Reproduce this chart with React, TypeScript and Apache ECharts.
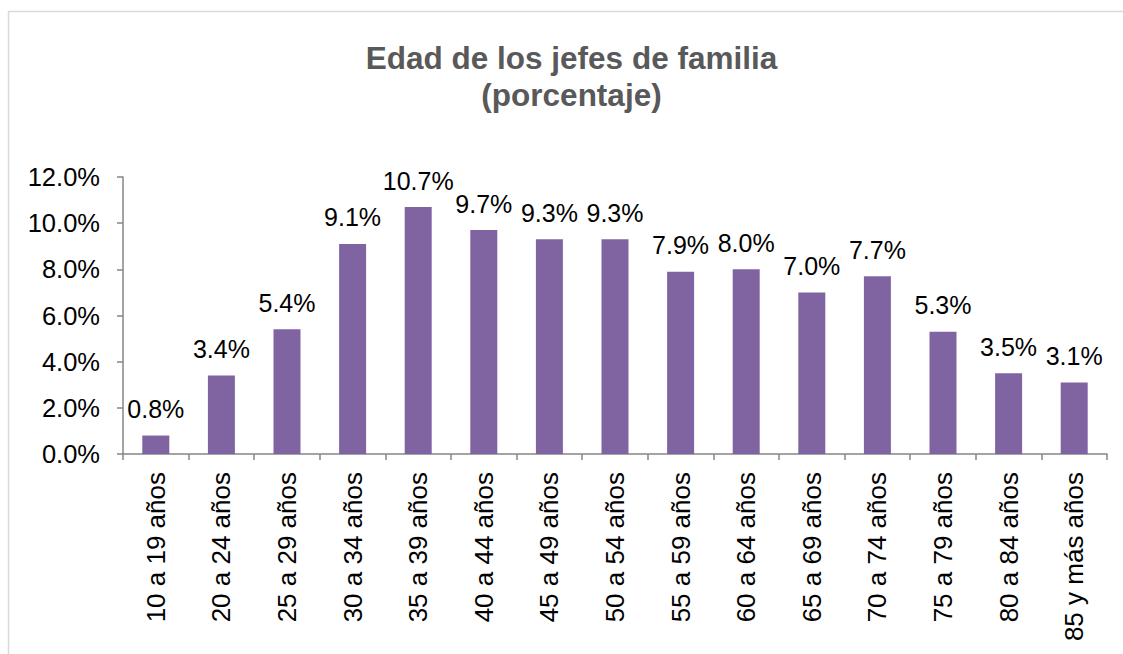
import React, { useEffect, useRef } from "react";
import * as echarts from "echarts";

const categories = [
  "10 a 19 años", "20 a 24 años", "25 a 29 años", "30 a 34 años", "35 a 39 años",
  "40 a 44 años", "45 a 49 años", "50 a 54 años", "55 a 59 años", "60 a 64 años",
  "65 a 69 años", "70 a 74 años", "75 a 79 años", "80 a 84 años", "85 y más años",
];
const values = [0.8, 3.4, 5.4, 9.1, 10.7, 9.7, 9.3, 9.3, 7.9, 8.0, 7.0, 7.7, 5.3, 3.5, 3.1];
const titleLines = ["Edad de los jefes de familia", "(porcentaje)"];

const FONT = "'Liberation Sans', Arial, sans-serif";

export default function App() {
  const ref = useRef<HTMLDivElement>(null);
  useEffect(() => {
    if (!ref.current) return;
    const chart = echarts.init(ref.current, null, { renderer: "svg" });
    chart.setOption({
      animation: false,
      backgroundColor: "#ffffff",
      graphic: [
        {
          type: "rect",
          shape: { x: 8.5, y: 11.5, width: 1200, height: 800 },
          style: { fill: "none", stroke: "#d9d9d9", lineWidth: 1.5 },
          silent: true,
        },
        {
          type: "text",
          x: 571.5,
          y: 39,
          silent: true,
          style: {
            text: titleLines.join("\n"),
            textAlign: "center",
            textVerticalAlign: "top",
            fontFamily: FONT,
            fontSize: 31.5,
            fontWeight: "bold",
            fill: "#595959",
            lineHeight: 37,
          },
        },
      ],
      grid: { left: 123, right: 16, top: 177, bottom: 200, containLabel: false },
      xAxis: {
        type: "category",
        data: categories,
        axisLine: { lineStyle: { color: "#868686", width: 1.5 } },
        axisTick: { show: true, length: 6, lineStyle: { color: "#868686", width: 1.5 } },
        axisLabel: {
          rotate: 90,
          interval: 0,
          margin: 18,
          fontFamily: FONT,
          fontSize: 26,
          color: "#000000",
        },
      },
      yAxis: {
        type: "value",
        min: 0,
        max: 12,
        interval: 2,
        splitLine: { show: false },
        axisLine: { show: true, lineStyle: { color: "#868686", width: 1.5 } },
        axisTick: { show: true, length: 6, lineStyle: { color: "#868686", width: 1.5 } },
        axisLabel: {
          margin: 23,
          fontFamily: FONT,
          fontSize: 25.5,
          color: "#000000",
          formatter: (v: number) => v.toFixed(1) + "%",
        },
      },
      series: [
        {
          type: "bar",
          data: values,
          barWidth: 27,
          itemStyle: { color: "#8064A2" },
          label: {
            show: true,
            position: "top",
            distance: 14,
            fontFamily: FONT,
            fontSize: 25,
            color: "#000000",
            formatter: (p: any) => Number(p.value).toFixed(1) + "%",
          },
        },
      ],
    });
    return () => chart.dispose();
  }, []);
  return (
    <div
      ref={ref}
      style={{ position: "absolute", left: 0, top: 0, width: 1123, height: 654 }}
    />
  );
}
